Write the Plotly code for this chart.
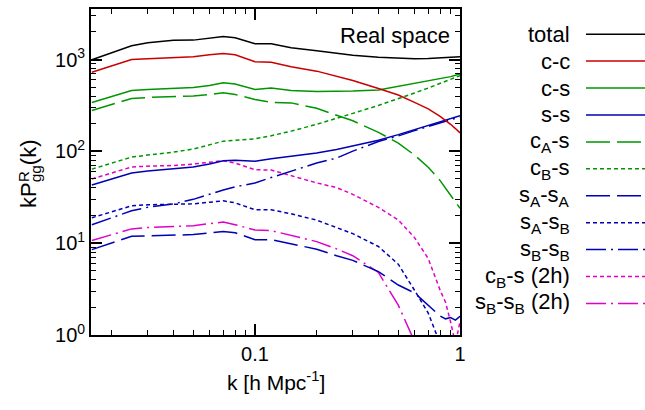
import plotly.graph_objects as go

# ---------------- data ----------------
k = [0.016, 0.02, 0.025, 0.03, 0.04, 0.05, 0.06, 0.07, 0.08, 0.1, 0.12, 0.15,
     0.2, 0.25, 0.3, 0.4, 0.5, 0.6, 0.7, 0.8, 0.85, 0.9, 0.95, 1.0]

total = [995, 1185, 1410, 1520, 1618, 1626, 1702, 1778, 1722, 1483, 1483, 1342,
         1245, 1164, 1113, 1059, 1033, 1020, 1025, 1045, 1052, 1059, 1066, 1072]
cc = [728, 857, 1002, 1020, 1045, 1072, 1127, 1164, 1127, 946, 931, 836,
      747, 651, 590, 483, 411, 341, 290, 240, 218, 197, 177, 159]
cs = [341, 396, 460, 471, 485, 495, 520, 557, 541, 471, 489, 460,
      448, 448, 454, 465, 508, 547, 582, 620, 636, 651, 673, 697]
ss = [43, 50, 58, 61, 65, 67.5, 72.7, 79, 80, 78, 83, 88,
      96, 105, 114, 132, 152, 172, 190, 210, 220, 229, 237, 245]
cAs = [279, 324, 377, 386, 391, 401, 416, 434, 416, 367, 341, 337,
       294, 250, 215, 161, 123, 91, 67, 48, 40, 33, 28, 24]
cBs = [64, 74.5, 86.5, 91, 98, 106, 117, 129, 132, 137, 148, 166,
       197, 227, 259, 316, 372, 432, 489, 547, 575, 604, 636, 668]
sAsA = [8.5, 10.1, 11.9, 12.0, 12.2, 12.4, 12.9, 13.4, 13.0, 10.9, 10.9, 9.8,
        8.6, 7.3, 6.5, 4.9, 3.5, 2.87, 2.11, 1.61, 1.5, 1.55, 1.45, 1.6]
sAsB = [18.9, 22, 25.5, 26.2, 26.6, 26.8, 27.9, 28.9, 27.5, 23.1, 23.1, 20.9,
        17.8, 14.7, 12.7, 9.2, 5.9, 3.07, 1.73, 0.8, 0.5, 0.4, 0.4, 0.4]
sBsB = [15.9, 18.9, 22.5, 24.6, 26.8, 30, 34.4, 38, 41, 45.3, 51.9, 61,
        74.5, 84.4, 100.5, 128, 147, 168, 187, 206, 214, 222, 229, 235]
cBs_2h = [50, 58, 67.5, 69, 70, 72.7, 75.5, 79, 74.5, 63, 62.6, 54.6,
          45.3, 40.3, 34, 24.5, 17.9, 11.5, 6.8, 3.07, 2.28, 1.38, 0.8, 1.4]
sBsB_2h = [10.7, 12.4, 14.3, 14.8, 15.1, 15.5, 16.3, 17, 15.9, 13.9, 13.7, 12.1,
           10.4, 8.67, 7.3, 4.8, 2.11, 0.85, 0.5, 0.3, 0.3, 0.3, 0.3, 0.3]

labels = ["total", "c-c", "c-s", "s-s",
          "c<sub>A</sub>-s", "c<sub>B</sub>-s",
          "s<sub>A</sub>-s<sub>A</sub>", "s<sub>A</sub>-s<sub>B</sub>",
          "s<sub>B</sub>-s<sub>B</sub>", "c<sub>B</sub>-s (2h)",
          "s<sub>B</sub>-s<sub>B</sub> (2h)"]
series = [total, cc, cs, ss, cAs, cBs, sAsA, sAsB, sBsB, cBs_2h, sBsB_2h]

y_tickvals = [1, 10, 100, 1000]
y_ticktext = ["10<sup>0</sup>", "10<sup>1</sup>", "10<sup>2</sup>", "10<sup>3</sup>"]
x_tickvals = [0.1, 1]
x_ticktext = ["0.1", "1"]

# ---------------- styles ----------------
BLACK = "#000000"
RED = "#c80000"
GREEN = "#009600"
BLUE = "#0000b4"
MAG = "#e000c8"
LONG = "24px,7px"
SHORT = "4px,3px"
DDOT = "20px,5px,2px,5px"
styles = [(BLACK, "solid"), (RED, "solid"), (GREEN, "solid"), (BLUE, "solid"),
          (GREEN, LONG), (GREEN, SHORT), (BLUE, LONG), (BLUE, SHORT),
          (BLUE, DDOT), (MAG, SHORT), (MAG, DDOT)]

FONT = "Liberation Sans, Arial, Helvetica, sans-serif"
W, H = 645, 410
L, R, T, B = 91, 185, 7, 75
pw, ph = W - L - R, H - T - B

fig = go.Figure()
# draw in reverse so that 'total' is on top
for lab, ys, (col, dash) in reversed(list(zip(labels, series, styles))):
    fig.add_trace(go.Scatter(x=k, y=ys, mode="lines", name=lab,
                             line=dict(color=col, width=1.5, dash=dash),
                             showlegend=False, hoverinfo="skip"))

# manual legend (text right aligned, line sample to the right)
def px2paper_x(px):
    return (px - L) / pw

def px2paper_y(py):
    return (H - B - py) / ph

leg_y0, leg_dy = 32.3, 27.1
for i, (lab, (col, dash)) in enumerate(zip(labels, styles)):
    yy = px2paper_y(leg_y0 + i * leg_dy)
    fig.add_annotation(x=px2paper_x(572), y=yy, xref="paper", yref="paper",
                       text=lab, showarrow=False, xanchor="right", yanchor="middle",
                       font=dict(family=FONT, size=22, color="black"))
    fig.add_shape(type="line", xref="paper", yref="paper",
                  x0=px2paper_x(586), x1=px2paper_x(645), y0=yy, y1=yy,
                  line=dict(color=col, width=1.5, dash=dash))

fig.add_annotation(x=px2paper_x(452), y=px2paper_y(34), xref="paper", yref="paper",
                   text="Real space", showarrow=False, xanchor="right", yanchor="middle",
                   font=dict(family=FONT, size=22, color="black"))

# axis titles
fig.add_annotation(x=px2paper_x(276), y=px2paper_y(381), xref="paper", yref="paper",
                   text="k [h Mpc<sup>-1</sup>]", showarrow=False,
                   xanchor="center", yanchor="middle",
                   font=dict(family=FONT, size=21, color="black"))
fig.add_annotation(x=px2paper_x(30), y=px2paper_y(173), xref="paper", yref="paper",
                   text="kP<sub>gg</sub>(k)", showarrow=False, textangle=-90,
                   xanchor="center", yanchor="middle",
                   font=dict(family=FONT, size=22, color="black"))
fig.add_annotation(x=px2paper_x(24), y=px2paper_y(176), xref="paper", yref="paper",
                   text="R", showarrow=False, textangle=-90,
                   xanchor="center", yanchor="middle",
                   font=dict(family=FONT, size=15, color="black"))

x_minor = [0.02, 0.03, 0.04, 0.05, 0.06, 0.07, 0.08, 0.09,
           0.2, 0.3, 0.4, 0.5, 0.6, 0.7, 0.8, 0.9]
y_minor = [m * d for d in (1, 10, 100) for m in range(2, 10)] + [2000, 3000]

axis_common = dict(showline=True, linecolor="black", linewidth=1.8, mirror="allticks",
                   ticks="inside", ticklen=11, tickwidth=1.5, tickcolor="black",
                   showgrid=False, zeroline=False,
                   tickfont=dict(family=FONT, size=20, color="black"))
fig.update_xaxes(type="log", range=[-1.80, 0], tickmode="array",
                 tickvals=x_tickvals, ticktext=x_ticktext,
                 minor=dict(ticks="inside", ticklen=5, tickwidth=1.2, tickcolor="black",
                            tickvals=x_minor, showgrid=False),
                 **axis_common)
fig.update_yaxes(type="log", range=[0, 3.55], tickmode="array",
                 tickvals=y_tickvals, ticktext=y_ticktext,
                 minor=dict(ticks="inside", ticklen=5, tickwidth=1.2, tickcolor="black",
                            tickvals=y_minor, showgrid=False),
                 **axis_common)

fig.update_layout(width=W, height=H, margin=dict(l=L, r=R, t=T, b=B),
                  paper_bgcolor="white", plot_bgcolor="white",
                  font=dict(family=FONT, color="black"))

fig.write_html("out.html", config={"displayModeBar": False},
               post_script="document.body.style.margin='0px';document.body.style.overflow='hidden';")
